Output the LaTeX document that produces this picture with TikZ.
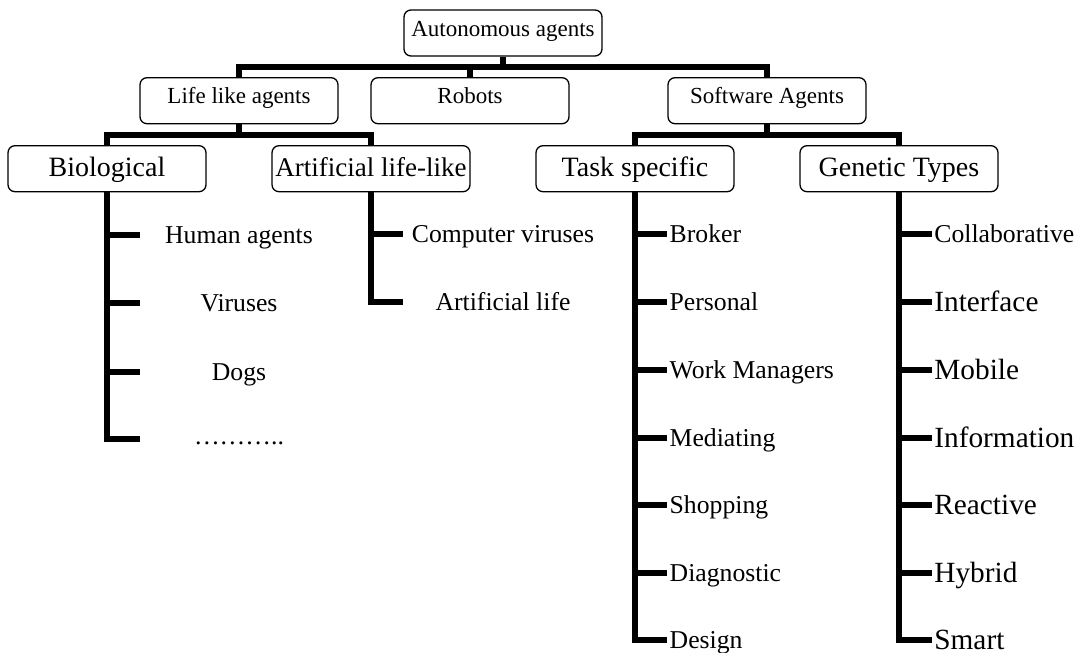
\documentclass[tikz,border=0pt]{standalone}
\usepackage{fontspec}
\setmainfont{Liberation Serif}
\begin{document}
\begin{tikzpicture}[x=1pt,y=-1pt,
  box/.style={draw, line width=1.3pt, rounded corners=7pt, minimum width=198pt,
    minimum height=46pt, inner sep=0pt},
  boxA/.style={box, font=\fontsize{23}{27}\selectfont, text height=16pt, text depth=9.6pt},
  boxB/.style={box, font=\fontsize{28}{32}\selectfont, text height=19.5pt, text depth=4.9pt},
  bar/.style={line width=6pt, line join=miter},
  leaf/.style={inner sep=0pt, font=\fontsize{25.7}{30}\selectfont, text height=17pt, text depth=0pt},
  leafR/.style={leaf, anchor=west, inner xsep=2.5pt},
  leafBig/.style={leafR, font=\fontsize{29.3}{34}\selectfont, text height=19.4pt}
]
\useasboundingbox (0,0) rectangle (1079,653);

% boxes
\node[boxA] (top)    at (503,33)    {Autonomous agents};
\node[boxA] (life)   at (239,100.7) {Life like agents};
\node[boxA] (robots) at (470,100.7) {Robots};
\node[boxA] (soft)   at (767,100.7) {Software Agents};
\node[boxB] (bio)    at (107,168.7) {Biological};
\node[boxB, font=\fontsize{27}{31}\selectfont] (art) at (371,168.7) {Artificial life-like};
\node[boxB] (task)   at (635,168.7) {Task specific};
\node[boxB] (gen)    at (899,168.7) {Genetic Types};

% upper bars
\coordinate (topbar) at (503,67);
\coordinate (lifebar) at (239,135);
\coordinate (softbar) at (767,135);
\draw[bar] (top.south) -- (topbar);
\draw[bar] (life.north) |- (topbar) -| (soft.north);
\draw[bar] (robots.north) -- (robots.north |- topbar);
\draw[bar] (life.south) -- (lifebar);
\draw[bar] (bio.north) |- (lifebar) -| (art.north);
\draw[bar] (soft.south) -- (softbar);
\draw[bar] (task.north) |- (softbar) -| (gen.north);

% biological examples
\node[leaf] (human)   at (239,235)   {Human agents};
\node[leaf] (viruses) at (239,303)   {Viruses};
\node[leaf] (dogs)    at (239,371.5) {Dogs};
\node[inner sep=0pt, anchor=base, font=\fontsize{25.7}{30}\selectfont] (more) at (239,444) {………..};
\coordinate (hb1) at (140,235);
\coordinate (hb2) at (140,303);
\coordinate (hb3) at (140,371.5);
\coordinate (hb4) at (140,439);
\draw[bar] (bio.south) |- (hb4);
\foreach \c in {hb1,hb2,hb3} \draw[bar] (bio.south |- \c) -- (\c);

% artificial life-like examples
\node[leaf] (compvir) at (503,234) {Computer viruses};
\node[leaf] (artlife) at (503,302) {Artificial life};
\coordinate (ab1) at (403,234);
\coordinate (ab2) at (403,302);
\draw[bar] (art.south) |- (ab2);
\draw[bar] (art.south |- ab1) -- (ab1);

% task specific agents
\node[leafR] (broker)   at (667,234)   {Broker};
\node[leafR] (personal) at (667,302)   {Personal};
\node[leafR] (work)     at (667,370)   {Work Managers};
\node[leafR] (mediate)  at (667,437.5) {Mediating};
\node[leafR] (shop)     at (667,505)   {Shopping};
\node[leafR] (diag)     at (667,572.7) {Diagnostic};
\node[leafR] (design)   at (667,640)   {Design};
\draw[bar] (task.south) |- (design.west);
\foreach \n in {broker,personal,work,mediate,shop,diag}
  \draw[bar] (task.south |- \n.west) -- (\n.west);

% generic agent types
\node[leafR]   (collab) at (931.7,234)   {Collaborative};
\node[leafBig] (iface)  at (931.7,302)   {Interface};
\node[leafBig] (mobile) at (931.7,370)   {Mobile};
\node[leafBig] (info)   at (931.7,437.5) {Information};
\node[leafBig] (react)  at (931.7,505)   {Reactive};
\node[leafBig] (hybrid) at (931.7,572.7) {Hybrid};
\node[leafBig] (smart)  at (931.7,640)   {Smart};
\draw[bar] (gen.south) |- (smart.west);
\foreach \n in {collab,iface,mobile,info,react,hybrid}
  \draw[bar] (gen.south |- \n.west) -- (\n.west);
\end{tikzpicture}
\end{document}
